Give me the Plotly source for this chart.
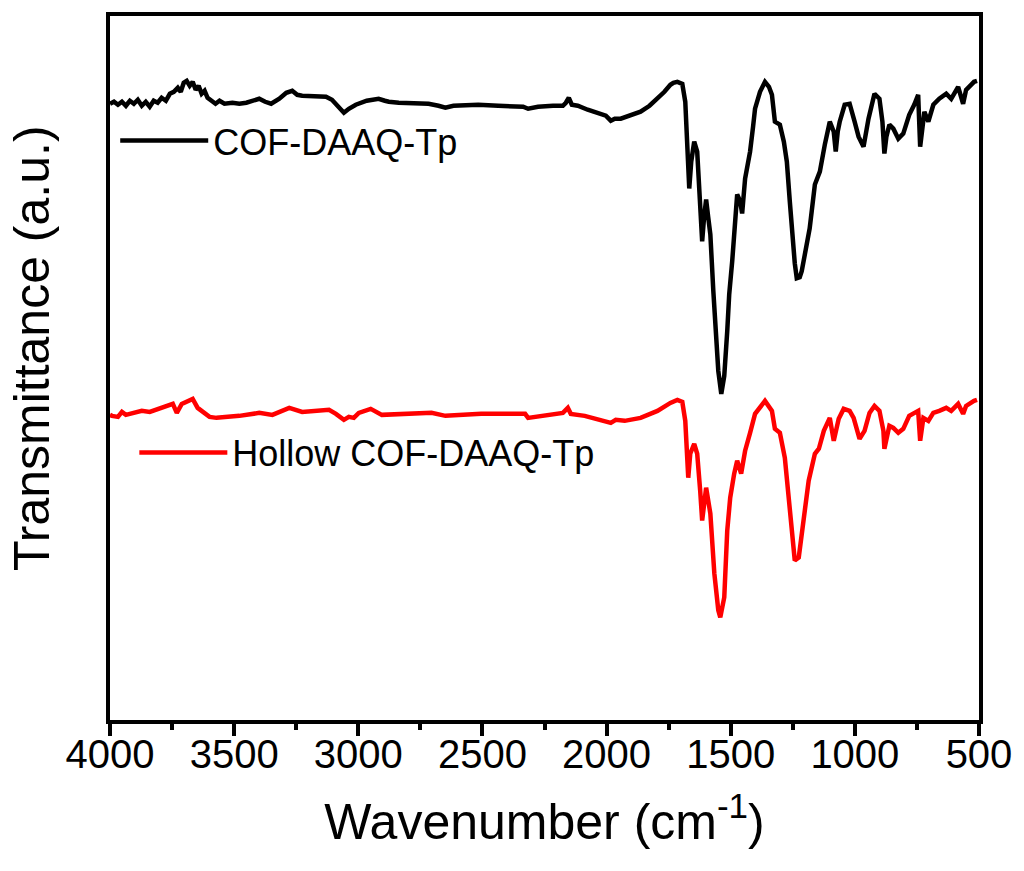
import plotly.graph_objects as go

# Wavenumber (cm-1) and transmittance (a.u.)
wn_cof = [4000, 3984, 3968, 3952, 3936, 3920, 3904, 3888, 3872, 3856, 3840, 3824, 3808, 3792,
          3775, 3759, 3743, 3727, 3715, 3703, 3691, 3679, 3667, 3655, 3643, 3631, 3619, 3607,
          3591, 3575, 3559, 3539, 3507, 3479, 3451, 3423, 3399, 3375, 3351, 3318, 3290, 3266,
          3246, 3226, 3178, 3130, 3106, 3078, 3058, 3038, 3010, 2966, 2918, 2893, 2877, 2837,
          2769, 2717, 2677, 2649, 2617, 2569, 2517, 2436, 2376, 2336, 2316, 2276, 2216, 2176,
          2164, 2152, 2140, 2116, 2076, 2035, 2003, 1983, 1967, 1943, 1903, 1863, 1827, 1795,
          1767, 1743, 1731, 1715, 1695, 1683, 1675, 1667, 1659, 1647, 1635, 1623, 1615, 1607,
          1599, 1591, 1582, 1570, 1562, 1550, 1538, 1526, 1514, 1506, 1494, 1482, 1474, 1462,
          1454, 1442, 1422, 1410, 1402, 1382, 1362, 1346, 1334, 1322, 1302, 1286, 1274, 1262,
          1254, 1242, 1234, 1222, 1214, 1198, 1182, 1161, 1141, 1121, 1101, 1085, 1077, 1069,
          1061, 1041, 1021, 1001, 985, 965, 945, 921, 901, 889, 881, 873, 861, 845, 825, 805,
          781, 761, 745, 737, 728, 720, 704, 684, 660, 632, 612, 584, 564, 552, 532, 520, 508]
t_cof = [618, 620, 617, 620, 616, 621, 618, 622, 616, 620, 615, 621, 619, 624,
         621, 628, 630, 634, 630, 639, 641, 636, 640, 632, 636, 628, 631, 624,
         621, 618, 621, 618, 619, 618, 619, 621, 623, 620, 618, 623, 629, 631,
         627, 626, 626, 625, 622, 614, 609, 613, 617, 621, 623, 621, 620, 619,
         619, 618, 616, 614, 616, 617, 617, 616, 616, 615, 613, 615, 616, 616,
         619, 624, 617, 616, 612, 608, 606, 601, 603, 603, 607, 610, 616, 623,
         630, 637, 639, 640, 638, 620, 570, 533, 560, 580, 570, 520, 480, 505,
         522, 505, 487, 430, 393, 350, 327, 345, 390, 427, 460, 495, 527, 520,
         508, 543, 570, 595, 613, 630, 640, 635, 627, 600, 597, 580, 560, 520,
         493, 458, 443, 444, 450, 470, 493, 537, 550, 577, 600, 590, 570, 590,
         600, 617, 618, 600, 585, 575, 603, 628, 623, 600, 568, 585, 597, 593, 583, 588,
         607, 617, 627, 575, 595, 610, 600, 617, 623, 628, 623, 635, 618, 632, 637, 640, 641]

wn_hollow = [4000, 3992, 3968, 3952, 3936, 3908, 3872, 3840, 3808, 3771, 3747, 3731, 3711, 3667,
             3647, 3599, 3571, 3479, 3399, 3346, 3278, 3226, 3118, 3090, 3058, 3038, 3018, 2998,
             2950, 2905, 2769, 2705, 2649, 2505, 2336, 2328, 2316, 2176, 2156, 2144, 2088, 2035,
             1983, 1963, 1927, 1863, 1795, 1743, 1715, 1695, 1683, 1671, 1663, 1647, 1635, 1623,
             1615, 1599, 1582, 1566, 1550, 1542, 1526, 1514, 1502, 1486, 1474, 1458, 1442, 1422,
             1402, 1362, 1334, 1322, 1302, 1282, 1262, 1242, 1226, 1206, 1186, 1161, 1145, 1125,
             1101, 1085, 1065, 1045, 1021, 1005, 981, 961, 941, 921, 901, 885, 881, 861, 845,
             825, 805, 781, 745, 737, 724, 704, 684, 660, 632, 612, 584, 564, 552, 520, 508]
t_hollow = [306, 305, 304, 309, 306, 308, 310, 309, 312, 315, 317, 308, 317, 322,
            313, 304, 303, 305, 308, 306, 313, 309, 311, 307, 301, 304, 303, 308,
            312, 306, 308, 308, 305, 307, 307, 307, 303, 308, 313, 307, 305, 302,
            298, 301, 300, 303, 310, 318, 321, 319, 300, 243, 267, 277, 267, 230,
            200, 233, 207, 147, 110, 103, 123, 190, 223, 247, 260, 247, 270, 288,
            307, 320, 310, 292, 288, 263, 213, 160, 163, 200, 240, 267, 272, 290,
            303, 280, 302, 312, 310, 303, 282, 290, 308, 315, 310, 290, 272, 295, 293,
            288, 292, 305, 310, 280, 303, 300, 308, 310, 313, 310, 317, 307, 315, 320, 321]

x_ticks = [4000, 3500, 3000, 2500, 2000, 1500, 1000, 500]
names = ["COF-DAAQ-Tp", "Hollow COF-DAAQ-Tp"]
colors = ["#000000", "#ff0000"]

FONT = "Arial, Liberation Sans, sans-serif"

fig = go.Figure()
fig.add_trace(go.Scatter(x=wn_cof, y=t_cof, mode="lines", name=names[0],
                         line=dict(color=colors[0], width=4.5), legend="legend"))
fig.add_trace(go.Scatter(x=wn_hollow, y=t_hollow, mode="lines", name=names[1],
                         line=dict(color=colors[1], width=4.5), legend="legend2"))

fig.update_layout(
    width=1024, height=871,
    margin=dict(l=110, r=41, t=14, b=151),
    paper_bgcolor="white", plot_bgcolor="white",
    font=dict(family=FONT, color="black"),
    showlegend=True,
    legend=dict(x=0.006, y=0.823, xanchor="left", yanchor="middle",
                bgcolor="rgba(0,0,0,0)", font=dict(size=36, family=FONT),
                itemwidth=88),
    legend2=dict(x=0.028, y=0.38, xanchor="left", yanchor="middle",
                 bgcolor="rgba(0,0,0,0)", font=dict(size=36, family=FONT),
                 itemwidth=88),
    xaxis=dict(
        range=[4000, 500], tickvals=x_ticks, ticktext=[str(v) for v in x_ticks],
        ticks="outside", ticklen=12, tickwidth=4, tickcolor="black",
        minor=dict(dtick=250, ticks="outside", ticklen=6, tickwidth=4, tickcolor="black"),
        showline=True, linewidth=4, linecolor="black", mirror=True,
        showgrid=False, zeroline=False,
        tickfont=dict(size=40, family=FONT),
        ticklabelstandoff=-16,
        title=dict(text="Wavenumber (cm<sup>-1</sup>)", font=dict(size=50, family=FONT), standoff=30),
    ),
    yaxis=dict(
        range=[0, 706], showticklabels=False, ticks="",
        showline=True, linewidth=4, linecolor="black", mirror=True,
        showgrid=False, zeroline=False,
    ),
    annotations=[dict(
        text="Transmittance (a.u.)", xref="paper", yref="paper",
        x=-0.089, y=0.528, xanchor="center", yanchor="middle",
        textangle=-90, showarrow=False, font=dict(size=50, family=FONT),
    )],
)

fig.write_html("out.html")
